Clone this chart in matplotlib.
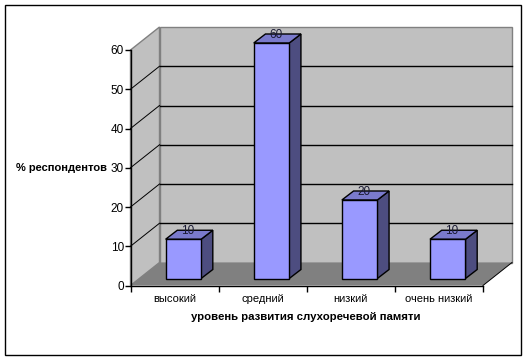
"""Bar chart with a drawn 3D box, spreadsheet style."""

import matplotlib
matplotlib.use("Agg")
import matplotlib.pyplot as plt
from matplotlib.patches import Polygon, Rectangle

plt.rcParams["font.family"] = ["Liberation Sans", "DejaVu Sans"]

categories = ["высокий", "средний", "низкий", "очень низкий"]
values = [10, 60, 20, 10]
y_ticks = [0, 10, 20, 30, 40, 50, 60]
x_title = "уровень развития слухоречевой памяти"
y_title = "% респондентов"

W, H = 526, 359
LEFT, RIGHT, BOTTOM, TOP = 130.5, 483, 285.5, 50

fig = plt.figure(figsize=(W / 100, H / 100), dpi=100, facecolor="white")

# outer frame, in pixels
bg = fig.add_axes([0, 0, 1, 1])
bg.set_xlim(0, W)
bg.set_ylim(H, 0)
bg.axis("off")
bg.add_patch(Rectangle((4.5, 4.5), 516, 350, fc="white", ec="black", lw=1))

ax = fig.add_axes([LEFT / W, 1 - BOTTOM / H, (RIGHT - LEFT) / W, (BOTTOM - TOP) / H])
ax.set_xlim(0, len(categories))
ax.set_ylim(0, 60)
ax.patch.set_visible(False)

# depth of the box and of the bars, in data units
xu = (RIGHT - LEFT) / len(categories)
yu = (BOTTOM - TOP) / 60
dx, dy = 29 / xu, 23 / yu
bdx, bdy = 11.7 / xu, 9 / yu
sx, sy = 8.8 / xu, 7 / yu
bw = 35.5 / xu
n = len(categories)
ymax = y_ticks[-1]


def poly(pts, fc, ec="black", lw=1.0, z=2):
    ax.add_patch(Polygon(pts, closed=True, fc=fc, ec=ec, lw=lw, zorder=z, clip_on=False))


# walls and floor
poly([(dx, dy), (n + dx, dy), (n + dx, ymax + dy), (dx, ymax + dy)], "#c0c0c0", "#808080", z=1)
poly([(0, 0), (dx, dy), (dx, ymax + dy), (0, ymax)], "#c0c0c0", "#808080", z=1)
poly([(0, 0), (n, 0), (n + dx, dy), (dx, dy)], "#808080", "none", z=1)

# gridlines on both walls
for t in y_ticks[1:-1]:
    ax.plot([0, dx], [t, t + dy], color="black", lw=0.7, zorder=1.5, clip_on=False)
    ax.plot([dx, n + dx], [t + dy, t + dy], color="black", lw=1, zorder=1.5, clip_on=False)
ax.plot([n, n + dx], [0, dy], color="black", lw=0.7, zorder=1.5, clip_on=False)

# bars
for i, v in enumerate(values):
    x0 = i + 0.5 - bw / 2 + sx
    x1 = x0 + bw
    y0 = sy
    y1 = v + sy
    poly([(x1, y0), (x1 + bdx, y0 + bdy), (x1 + bdx, y1 + bdy), (x1, y1)], "#4d4d80", z=3)
    poly([(x0, y1), (x1, y1), (x1 + bdx, y1 + bdy), (x0 + bdx, y1 + bdy)], "#7a7acc", z=3)
    poly([(x0, y0), (x1, y0), (x1, y1), (x0, y1)], "#9999ff", z=3)
    ax.text(i + 0.5 + sx + bdx / 2 - 1.5 / xu, y1 + bdy - 1 / yu, str(v), ha="center", va="center",
            fontsize=8.5, color="#1a1a33", zorder=4, clip_on=False)

for s in ["top", "right"]:
    ax.spines[s].set_visible(False)
for s in ["left", "bottom"]:
    ax.spines[s].set_linewidth(1)
    ax.spines[s].set_zorder(5)

ax.set_yticks(y_ticks)
ax.set_xticks(range(n + 1))
ax.set_xticklabels([])
ax.tick_params(axis="both", length=4, width=1, labelsize=8.5, pad=0.8, direction="out")
for i, c in enumerate(categories):
    ax.text(i + 0.5, -13.5 / yu, c, ha="center", va="center", fontsize=8)

fig.text(306 / W, 1 - 317 / H, x_title, ha="center", va="center", fontsize=8.2, fontweight="bold")
fig.text(61 / W, 1 - 168 / H, y_title, ha="center", va="center", fontsize=8, fontweight="bold")

fig.savefig("out.png", dpi=100)
